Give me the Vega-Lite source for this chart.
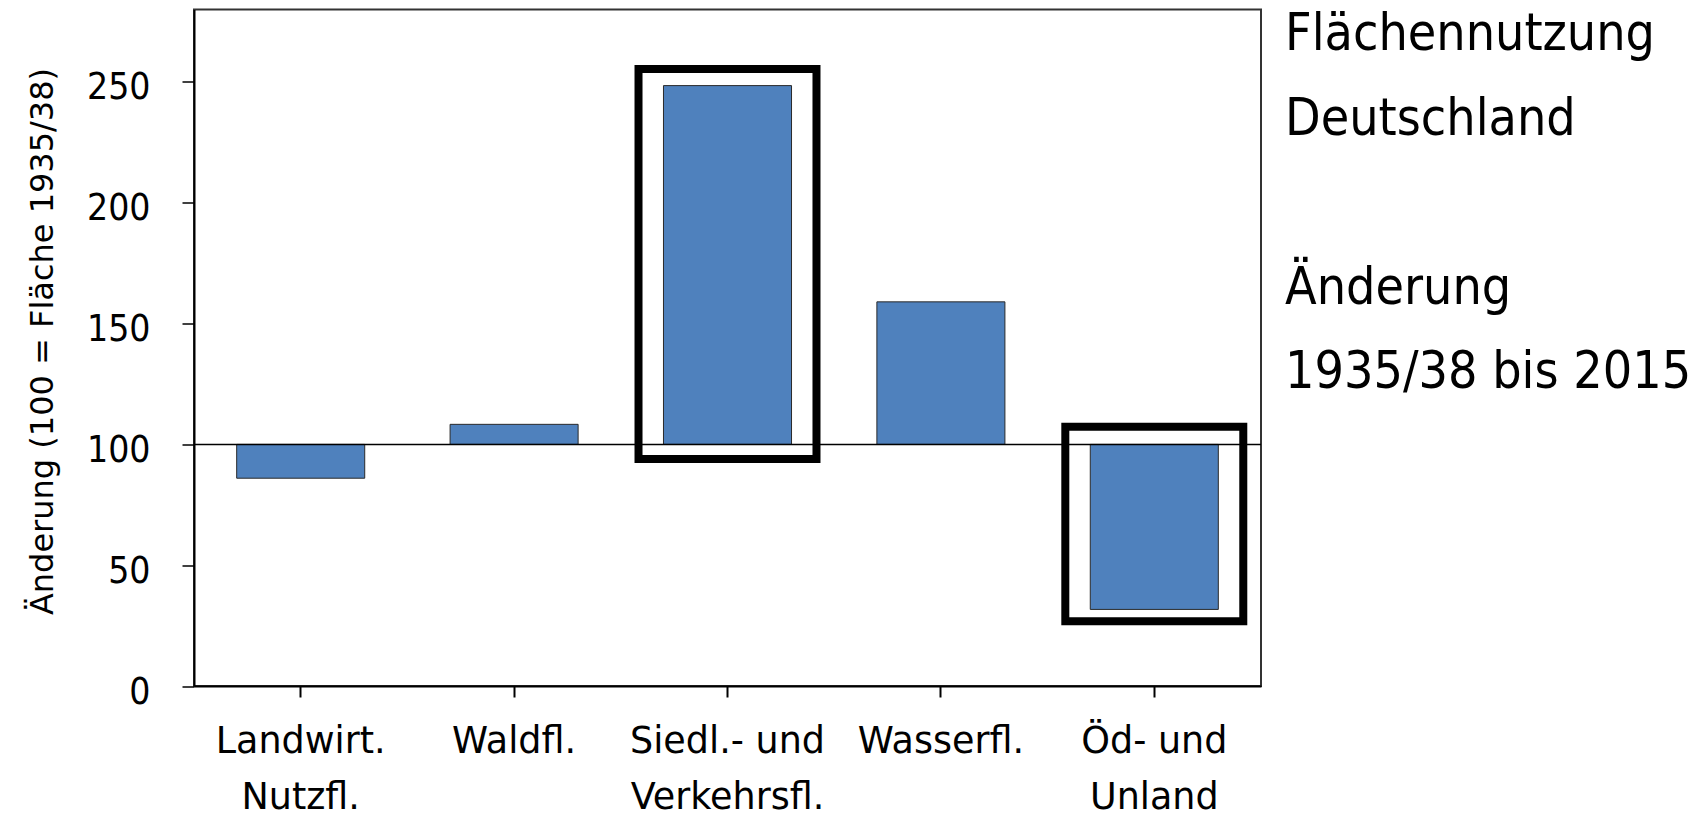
{
  "$schema": "https://vega.github.io/schema/vega-lite/v6.json",
  "width": 1067,
  "height": 676.5,
  "autosize": {"type": "none"},
  "padding": {"left": 194, "top": 9.5, "right": 447, "bottom": 131},
  "background": "white",
  "datasets": {
    "flaechen": [
      {"kategorie": "Landwirt.\nNutzfl.", "index": 86},
      {"kategorie": "Waldfl.", "index": 108.3},
      {"kategorie": "Siedl.- und\nVerkehrsfl.", "index": 248.5},
      {"kategorie": "Wasserfl.", "index": 159},
      {"kategorie": "Öd- und\nUnland", "index": 31.7}
    ],
    "markierung": [
      {"kategorie": "Siedl.- und\nVerkehrsfl.", "oben": 255.4, "unten": 94},
      {"kategorie": "Öd- und\nUnland", "oben": 107.3, "unten": 26.8}
    ],
    "referenz": [{"wert": 100}]
  },
  "title": {
    "text": ["Flächennutzung", "Deutschland", "\u200b", "Änderung", "1935/38 bis 2015"],
    "orient": "none",
    "anchor": "start",
    "frame": "group",
    "align": "left",
    "baseline": "alphabetic",
    "dx": 1091,
    "dy": 40.5,
    "lineHeight": 84.5,
    "font": "DejaVu Sans Condensed, DejaVu Sans",
    "fontSize": 51.5,
    "fontWeight": "normal",
    "color": "black"
  },
  "config": {
    "view": {"stroke": "#333333", "strokeWidth": 2},
    "axis": {"grid": false, "domainColor": "black", "domainWidth": 2, "tickColor": "black"},
    "axisY": {
      "tickSize": 12, "tickWidth": 1.5, "labelPadding": 32,
      "labelFont": "DejaVu Sans Condensed, DejaVu Sans", "labelFontSize": 37, "labelColor": "black",
      "labelBaseline": "middle", "labelOffset": 6,
      "titleFont": "DejaVu Sans", "titleFontSize": 32, "titleFontWeight": "normal", "titleColor": "black",
      "titleX": -142, "titleY": 331.5, "titleAlign": "center", "titleBaseline": "alphabetic", "titleAngle": 270
    },
    "axisX": {
      "tickSize": 11, "tickWidth": 2, "labelPadding": 26, "labelAngle": 0, "labelLimit": 0,
      "labelFont": "DejaVu Sans", "labelFontSize": 36.5, "labelColor": "black",
      "labelBaseline": "top", "labelLineHeight": 56.5
    }
  },
  "layer": [
    {
      "data": {"name": "flaechen"},
      "mark": {"type": "bar", "color": "#4F81BD", "stroke": "#2a2a2a", "strokeWidth": 1},
      "encoding": {
        "x": {
          "field": "kategorie", "type": "nominal", "sort": null,
          "scale": {"domain": ["Landwirt.\nNutzfl.", "Waldfl.", "Siedl.- und\nVerkehrsfl.", "Wasserfl.", "Öd- und\nUnland"], "paddingInner": 0.4, "paddingOuter": 0.2},
          "axis": {"title": null, "labelExpr": "split(datum.label, '\\n')"}
        },
        "y": {
          "field": "index", "type": "quantitative",
          "scale": {"domain": [0, 280], "nice": false},
          "axis": {"values": [0, 50, 100, 150, 200, 250]},
          "title": "Änderung (100 = Fläche 1935/38)"
        },
        "y2": {"datum": 100}
      }
    },
    {
      "data": {"name": "referenz"},
      "mark": {"type": "rule", "color": "black", "strokeWidth": 1.5},
      "encoding": {
        "y": {"field": "wert", "type": "quantitative", "title": "Änderung (100 = Fläche 1935/38)"}
      }
    },
    {
      "data": {"name": "markierung"},
      "mark": {"type": "bar", "width": {"band": 1.39}, "fillOpacity": 0, "fill": "white", "stroke": "black", "strokeWidth": 8},
      "encoding": {
        "x": {
          "field": "kategorie", "type": "nominal", "sort": null,
          "axis": {"title": null, "labelExpr": "split(datum.label, '\\n')"}
        },
        "y": {"field": "oben", "type": "quantitative", "title": "Änderung (100 = Fläche 1935/38)"},
        "y2": {"field": "unten"}
      }
    }
  ]
}
